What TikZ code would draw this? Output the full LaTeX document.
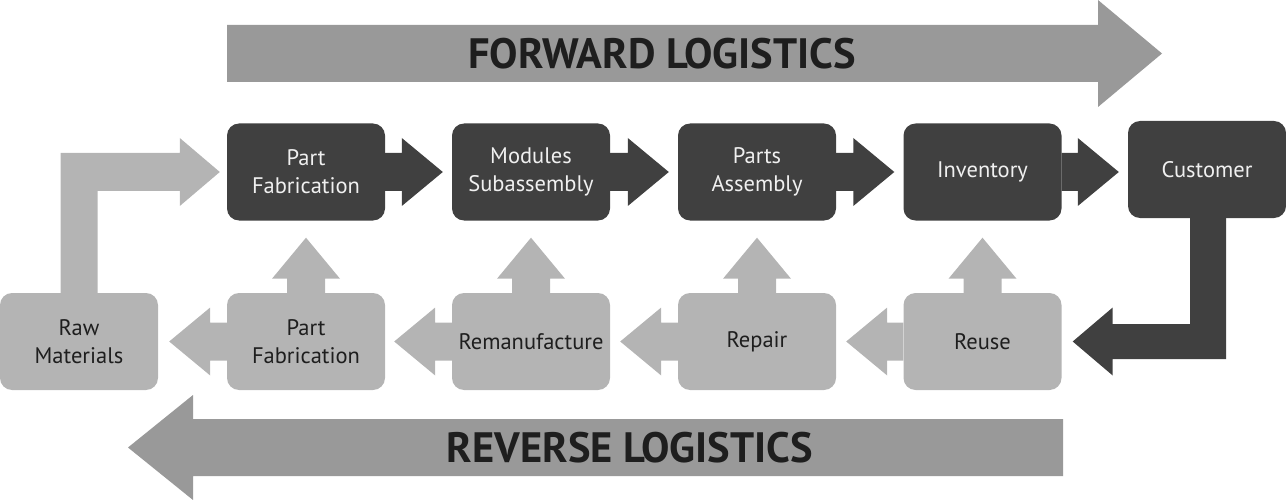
\documentclass[tikz,border=0pt]{standalone}
\usepackage{fontspec}
\setmainfont{PT Sans}
\usetikzlibrary{calc}
\definecolor{darkbox}{HTML}{404040}
\definecolor{lightbox}{HTML}{B4B4B4}
\definecolor{bigarrow}{HTML}{999999}
\definecolor{darktext}{HTML}{1E1E1E}
\definecolor{lighttext}{HTML}{F0F0F0}
\newcommand{\blockarrow}[3]{%
  \coordinate (ba-h) at ($(#2)!41pt!(#1)$);
  \fill[#3] ($(#1)!19pt!90:(#2)$) -- ($(ba-h)!19pt!90:(#2)$) -- ($(ba-h)!34pt!90:(#2)$)
     -- (#2) -- ($(ba-h)!34pt!-90:(#2)$) -- ($(ba-h)!19pt!-90:(#2)$) -- ($(#1)!19pt!-90:(#2)$) -- cycle;}
\begin{document}
\begin{tikzpicture}[x=1pt,y=-1pt,
  dbox/.style={fill=darkbox, text=lighttext, rounded corners=12pt, minimum width=158pt,
    minimum height=97pt, align=center, inner sep=0pt,
    font=\fontsize{22.5}{28}\selectfont},
  lbox/.style={dbox, fill=lightbox, text=darktext},
  bigtitle/.style={font=\fontsize{42.5}{46}\selectfont\bfseries, text=darktext, inner sep=0pt}]
\useasboundingbox (0,0) rectangle (1286,500);
% big arrows
\fill[bigarrow] (227,25) -- (1098,25) -- (1098,0) -- (1162,53.5) -- (1098,107) -- (1098,82) -- (227,82) -- cycle;
\fill[bigarrow] (1063,419) -- (193,419) -- (193,395) -- (128,447.5) -- (193,500) -- (193,476) -- (1063,476) -- cycle;
\node[bigtitle] (fwd) at (662,53.5) {FORWARD LOGISTICS};
\node[bigtitle] (rev) at (630,447.5) {REVERSE LOGISTICS};
% boxes
\node[dbox] (pf) at (306,172) {Part\\Fabrication};
\node[dbox] (ms) at (531,172) {Modules\\Subassembly};
\node[dbox] (pa) at (757,172) {Parts\\Assembly};
\node[dbox] (inv) at (982.5,172) {Inventory};
\node[dbox] (cu) at (1207,169.5) {Customer};
\node[lbox] (rm) at (79,341.5) {Raw\\Materials};
\node[lbox] (pf2) at (306,341.5) {Part\\Fabrication};
\node[lbox] (rem) at (531,341.5) {Remanufacture};
\node[lbox] (rep) at (757,341.5) {Repair};
\node[lbox] (reu) at (982.5,341.5) {Reuse};
% forward connectors
\coordinate (t1) at ($(ms.west)+(-9,0)$);
\coordinate (t2) at ($(pa.west)+(-9,0)$);
\coordinate (t3) at ($(inv.west)+(-9,0)$);
\coordinate (t4) at ($(cu.west |- inv.west)+(-9,0)$);
\blockarrow{pf.east}{t1}{darkbox}
\blockarrow{ms.east}{t2}{darkbox}
\blockarrow{pa.east}{t3}{darkbox}
\blockarrow{inv.east}{t4}{darkbox}
% upward connectors
\coordinate (u1) at ($(pf.south)+(0,17)$);
\coordinate (u2) at ($(ms.south)+(0,17)$);
\coordinate (u3) at ($(pa.south)+(0,17)$);
\coordinate (u4) at ($(inv.south)+(0,17)$);
\blockarrow{pf2.north}{u1}{lightbox}
\blockarrow{rem.north}{u2}{lightbox}
\blockarrow{rep.north}{u3}{lightbox}
\blockarrow{reu.north}{u4}{lightbox}
% leftward connectors
\coordinate (l1) at ($(rm.east)+(11,0)$);
\coordinate (l2) at ($(pf2.east)+(9,0)$);
\coordinate (l3) at ($(rem.east)+(10,0)$);
\coordinate (l4) at ($(rep.east)+(10,0)$);
\blockarrow{pf2.west}{l1}{lightbox}
\blockarrow{rem.west}{l2}{lightbox}
\blockarrow{rep.west}{l3}{lightbox}
\blockarrow{reu.west}{l4}{lightbox}
% raw materials -> part fabrication (L-shaped)
\coordinate (rmtip) at ($(pf.west)+(-7,0)$);
\fill[lightbox] ($(rm.north)+(-18.5,0)$) -- ($(rm.north |- rmtip)+(-18.5,-19)$)
  -- ($(rmtip)+(-40,-19)$) -- ($(rmtip)+(-40,-34)$) -- (rmtip) -- ($(rmtip)+(-40,34)$)
  -- ($(rmtip)+(-40,19)$) -- ($(rm.north |- rmtip)+(18.5,19)$) -- ($(rm.north)+(18.5,0)$) -- cycle;
% customer -> reuse (L-shaped)
\coordinate (cutip) at ($(reu.east)+(11,0)$);
\fill[darkbox] ($(cu.south)+(-17,0)$) -- ($(cu.south)+(19,0)$) -- ($(cu.south |- cutip)+(19,17.5)$)
  -- ($(cutip)+(40,17.5)$) -- ($(cutip)+(40,34)$) -- (cutip) -- ($(cutip)+(40,-34)$)
  -- ($(cutip)+(40,-17.5)$) -- ($(cu.south |- cutip)+(-17,-17.5)$) -- cycle;
\end{tikzpicture}
\end{document}
